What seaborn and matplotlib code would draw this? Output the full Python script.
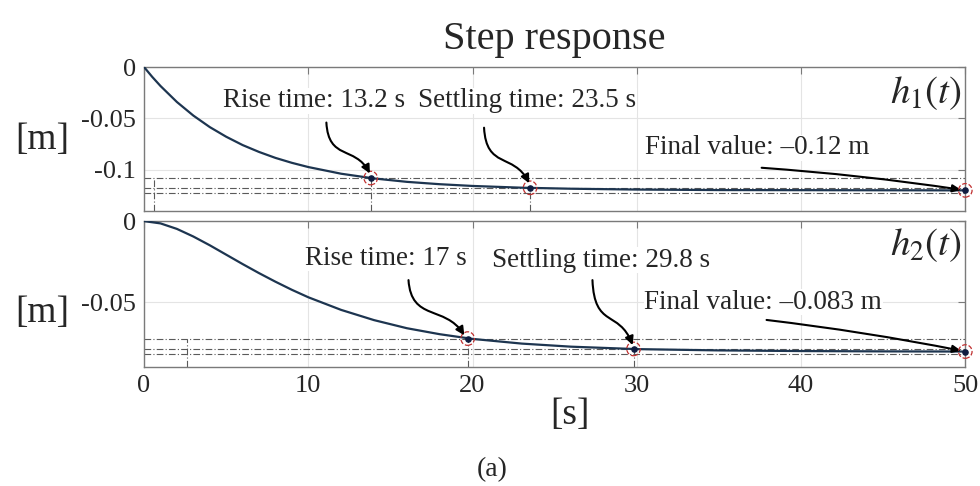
import matplotlib
matplotlib.use("Agg")
import matplotlib.pyplot as plt
from matplotlib.patches import FancyArrowPatch
from matplotlib.path import Path
import pandas as pd
import seaborn as sns

# step response samples
t_h1 = [0, 0.5, 1, 2, 3, 4, 5, 6, 7, 8, 9, 10, 12, 14, 16, 18, 20, 23, 26, 30, 35, 40, 45, 50]
h1 = [0, -0.0096, -0.0184, -0.0340, -0.0472, -0.0584, -0.0678, -0.0759, -0.0826, -0.0884,
      -0.0932, -0.0973, -0.1038, -0.1084, -0.1117, -0.1140, -0.1157, -0.1174, -0.1184,
      -0.1192, -0.1197, -0.1198, -0.1199, -0.1200]
t_h2 = [0, 1, 2, 3, 4, 5, 6, 7, 8, 9, 10, 12, 14, 16, 18, 20, 23, 26, 30, 35, 40, 45, 50]
h2 = [0, -0.0014, -0.0048, -0.0095, -0.0149, -0.0207, -0.0265, -0.0321, -0.0374, -0.0424,
      -0.0470, -0.0548, -0.0611, -0.0661, -0.0698, -0.0727, -0.0756, -0.0775, -0.0790,
      -0.0798, -0.0802, -0.0804, -0.0805]

# marked points: rise end, settling, final
pts_t_h1 = [13.8, 23.5, 50]
pts_y_h1 = [-0.108, -0.1175, -0.120]
pts_t_h2 = [19.7, 29.8, 50]
pts_y_h2 = [-0.0725, -0.0789, -0.0805]

# dash-dot guide levels
hlev_h1 = [-0.108, -0.1176, -0.1224]
hlev_h2 = [-0.0725, -0.0789, -0.0821]
vlines_h1 = [(0.63, -0.108), (13.8, -0.108), (23.5, -0.1175)]
vlines_h2 = [(2.6, -0.0725), (19.7, -0.0725), (29.8, -0.0789)]

labels_h1 = ["Rise time: 13.2 s", "Settling time: 23.5 s", "Final value: \u20130.12 m"]
labels_h2 = ["Rise time: 17 s", "Settling time: 29.8 s", "Final value: \u20130.083 m"]

sns.set_style("white")
plt.rcParams["font.family"] = ["Liberation Serif", "DejaVu Serif"]
plt.rcParams["mathtext.fontset"] = "stix"
plt.rcParams["axes.unicode_minus"] = False

fig = plt.figure(figsize=(9.8, 4.86), dpi=100)
ax1 = fig.add_axes([0.147, 0.566, 0.838, 0.296])
ax2 = fig.add_axes([0.147, 0.245, 0.838, 0.300])

line_col = "#1d3550"
guide_col = "#5a5a5a"
dashdot = (0, (6, 2, 1, 2))


def panel(ax, t, y, pts_t, pts_y, hlev, vl, ylim):
    df = pd.DataFrame({"t": t, "y": y})
    ax.set_xlim(0, 50)
    ax.set_ylim(*ylim)
    ax.grid(True, color="#e4e4e4", lw=0.8)
    for lv in hlev:
        ax.axhline(lv, color=guide_col, lw=0.8, ls=dashdot, zorder=2)
    for xv, top in vl:
        ax.plot([xv, xv], [ylim[0], top], color=guide_col, lw=0.8, ls=dashdot, zorder=2)
    sns.lineplot(data=df, x="t", y="y", ax=ax, color=line_col, lw=1.6, zorder=3)
    ax.scatter(pts_t, pts_y, s=14, color="#101c40", zorder=5, clip_on=False)
    ax.scatter(pts_t, pts_y, s=95, facecolors="none", edgecolors="#c03030",
               linestyles="--", linewidths=0.9, zorder=5, clip_on=False)
    ax.set_xlabel("")
    ax.set_ylabel("")
    for s in ax.spines.values():
        s.set_color("#7a7a7a")
        s.set_linewidth(1.0)
    ax.tick_params(direction="in", length=5, color="#7a7a7a", top=True, right=True,
                   labelsize=19, pad=6)
    ax.set_xticks([0, 10, 20, 30, 40, 50])


def s_arrow(ax, start, end):
    # hooked arrow: leaves the text downward, lands on the point from above
    x0, y0 = start
    x3, y3 = end
    h = y0 - y3
    w = x3 - x0
    verts = [(x0, y0), (x0 + 0.05 * w, y0 - 0.75 * h), (x3 - 0.35 * w, y3 + 0.55 * h), (x3, y3)]
    p = Path(verts, [Path.MOVETO, Path.CURVE4, Path.CURVE4, Path.CURVE4])
    ax.add_patch(FancyArrowPatch(path=p, arrowstyle="-|>,head_length=5,head_width=2.5",
                                 color="black", lw=1.5, shrinkA=0, shrinkB=0, zorder=6))


def flat_arrow(ax, start, end):
    ax.annotate("", xy=end, xytext=start,
                arrowprops=dict(arrowstyle="-|>,head_length=0.5,head_width=0.22",
                                color="black", lw=1.5, shrinkA=0, shrinkB=3,
                                connectionstyle="arc3,rad=-0.02"))


panel(ax1, t_h1, h1, pts_t_h1, pts_y_h1, hlev_h1, vlines_h1, (-0.14, 0))
panel(ax2, t_h2, h2, pts_t_h2, pts_y_h2, hlev_h2, vlines_h2, (-0.09, 0))

ax1.set_yticks([0, -0.05, -0.1])
ax1.set_yticklabels(["0", "-0.05", "-0.1"])
ax1.set_xticklabels([])
ax2.set_yticks([0, -0.05])
ax2.set_yticklabels(["0", "-0.05"])
ax2.set_xticklabels(["0", "10", "20", "30", "40", "50"])

tkw = dict(fontsize=19.5, ha="center", va="center", zorder=6,
           bbox=dict(facecolor="white", edgecolor="none", pad=0.5))

# top panel texts and arrows
ax1.text(10.35, -0.033, labels_h1[0], **tkw)
ax1.text(23.3, -0.033, labels_h1[1], **tkw)
ax1.text(37.3, -0.0786, labels_h1[2], **tkw)
s_arrow(ax1, (11.1, -0.054), (13.75, -0.1035))
s_arrow(ax1, (20.7, -0.059), (23.45, -0.113))
flat_arrow(ax1, (37.6, -0.098), (50, -0.120))
ax1.text(49.8, -0.0252, r"$h_1(t)$", fontsize=28, ha="right", va="center")

# bottom panel texts and arrows
ax2.text(14.7, -0.0228, labels_h2[0], **tkw)
ax2.text(27.8, -0.024, labels_h2[1], **tkw)
ax2.text(37.7, -0.050, labels_h2[2], **tkw)
s_arrow(ax2, (16.1, -0.0364), (19.5, -0.0705))
s_arrow(ax2, (27.3, -0.0364), (29.75, -0.0765))
flat_arrow(ax2, (37.9, -0.061), (50, -0.0805))
ax2.text(49.8, -0.0148, r"$h_2(t)$", fontsize=28, ha="right", va="center")

fig.text(0.566, 0.918, "Step response", fontsize=29, ha="center", va="center")
fig.text(0.043, 0.712, "[m]", fontsize=27, ha="center", va="center")
fig.text(0.043, 0.356, "[m]", fontsize=27, ha="center", va="center")
fig.text(0.582, 0.146, "[s]", fontsize=27, ha="center", va="center")
fig.text(0.502, 0.033, "(a)", fontsize=20, ha="center", va="center")

fig.savefig("out.png", dpi=100)
